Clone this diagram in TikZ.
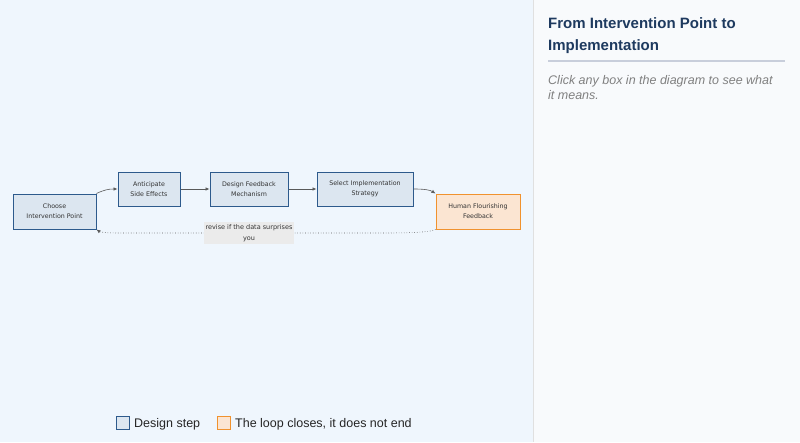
\documentclass[tikz,border=0pt]{standalone}
\usepackage{fontspec}
\setmainfont{Liberation Sans}
\newfontfamily\boxfont{DejaVu Sans}
\usetikzlibrary{arrows.meta}
\definecolor{leftbg}{HTML}{EFF6FD}
\definecolor{rightbg}{HTML}{F8FAFC}
\definecolor{stepfill}{HTML}{DCE6F0}
\definecolor{stepdraw}{HTML}{2D5A8C}
\definecolor{endfill}{HTML}{FBE5D2}
\definecolor{enddraw}{HTML}{F0922E}
\definecolor{titlec}{HTML}{1E3A5F}
\definecolor{sepc}{HTML}{C8CEDB}
\tikzset{
  dstep/.style={draw=stepdraw,fill=stepfill,line width=1pt,align=center,font=\boxfont\fontsize{6.3}{10}\selectfont,text=black!80},
  endst/.style={draw=enddraw,fill=endfill,line width=1pt,align=center,font=\boxfont\fontsize{6.3}{10}\selectfont,text=black!80},
  conn/.style={draw=black!65,line width=0.6pt,-{Latex[length=4pt,width=3.5pt]}},
  txt/.style={inner sep=0pt,anchor=base west},
}
\begin{document}
\begin{tikzpicture}[x=1pt,y=-1pt]
\useasboundingbox (0,0) rectangle (800,442);
\fill[leftbg] (0,0) rectangle (533,442);
\fill[rightbg] (533,0) rectangle (800,442);
\draw[black!12] (533.5,0) -- (533.5,442);
\node[dstep,minimum width=83pt,minimum height=35pt] (a) at (54.5,211.5) {Choose\\Intervention Point};
\node[dstep,minimum width=62pt,minimum height=34pt] (b) at (149,189) {Anticipate\\Side Effects};
\node[dstep,minimum width=78pt,minimum height=34pt] (c) at (249,189) {Design Feedback\\Mechanism};
\node[dstep,minimum width=96pt,minimum height=34pt] (d) at (365,189) {Select Implementation\\Strategy};
\node[endst,minimum width=84pt,minimum height=35pt] (e) at (478,211.5) {Human Flourishing\\Feedback};
\draw[conn] (a.north east) .. controls (104,190) and (108,189) .. (b.west);
\draw[conn] (b) -- (c);
\draw[conn] (c) -- (d);
\draw[conn] (d.east) .. controls (425,189) and (430,190) .. (e.north west);
\draw[conn,dotted] (e.south west) .. controls (428,233) and (400,233) .. (380,233) -- (120,233) .. controls (105,233) and (100,232) .. (a.south east);
\node[fill=black!8,inner sep=0pt,minimum width=90pt,minimum height=22pt,align=center,font=\boxfont\fontsize{6.5}{10.5}\selectfont,text=black!80] (l) at (249,233) {revise if the data surprises\\you};
\node[txt,font=\bfseries\fontsize{15}{17}\selectfont,text=titlec] (t1) at (548,28) {From Intervention Point to};
\node[txt,font=\bfseries\fontsize{15}{17}\selectfont,text=titlec] (t2) at (548,50) {Implementation};
\draw[sepc,line width=1.2pt] (548,61) -- (785,61);
\node[txt,font=\itshape\fontsize{12.5}{15}\selectfont,text=black!50] (s1) at (548,84) {Click any box in the diagram to see what};
\node[txt,font=\itshape\fontsize{12.5}{15}\selectfont,text=black!50] (s2) at (548,99) {it means.};
\node[draw=stepdraw,fill=stepfill,line width=0.8pt,minimum size=13pt,inner sep=0pt] (k1) at (122.5,422.5) {};
\node[txt,font=\fontsize{12.5}{15}\selectfont,text=black!85] (k1t) at (134,427) {Design step};
\node[draw=enddraw,fill=endfill,line width=0.8pt,minimum size=13pt,inner sep=0pt] (k2) at (223.5,422.5) {};
\node[txt,font=\fontsize{12.5}{15}\selectfont,text=black!85] (k2t) at (235,427) {The loop closes, it does not end};
\end{tikzpicture}
\end{document}
